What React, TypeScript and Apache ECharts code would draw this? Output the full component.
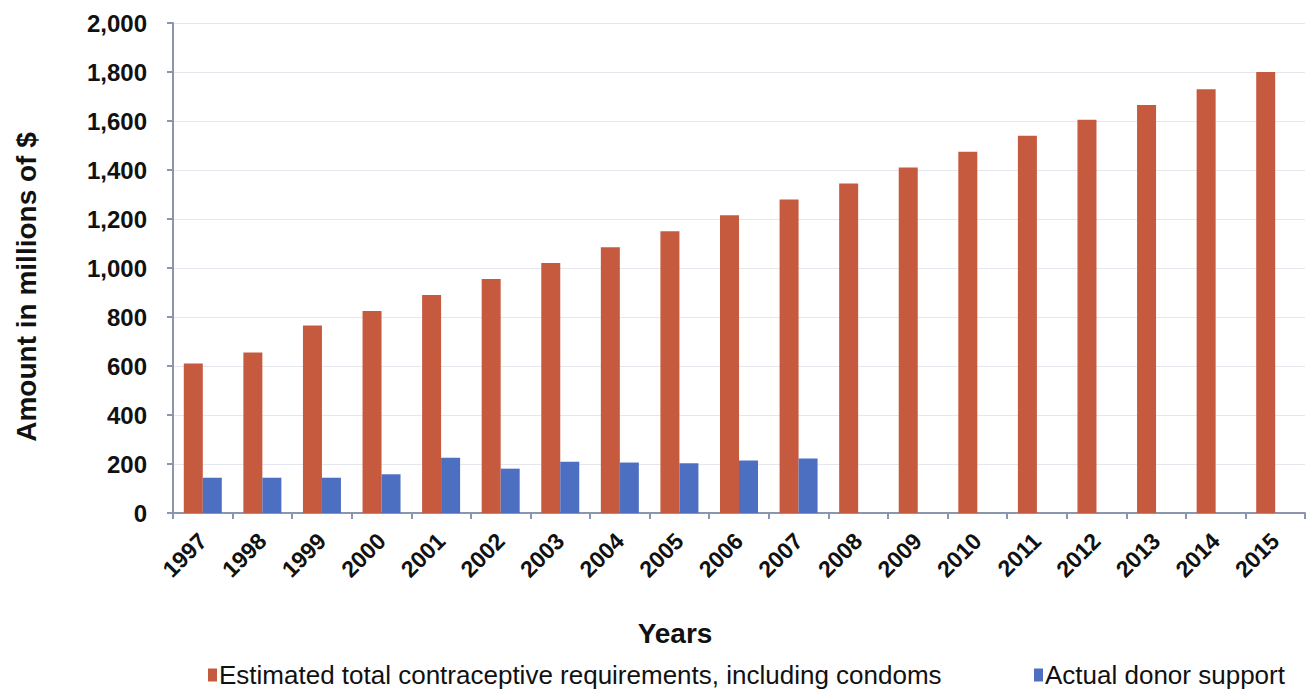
import React, { useEffect, useRef } from "react";
import * as echarts from "echarts";

const years = ["1997","1998","1999","2000","2001","2002","2003","2004","2005","2006","2007","2008","2009","2010","2011","2012","2013","2014","2015"];
const requirements = [610, 655, 765, 825, 890, 955, 1020, 1085, 1150, 1215, 1280, 1345, 1410, 1475, 1540, 1605, 1665, 1730, 1800];
const donorSupport: (number | null)[] = [144, 144, 144, 158, 226, 181, 209, 206, 203, 214, 222, null, null, null, null, null, null, null, null];
const yTicks = { min: 0, max: 2000, interval: 200 };
const seriesNames = ["Estimated total contraceptive requirements, including condoms", "Actual donor support"];

export default function App() {
  const ref = useRef<HTMLDivElement>(null);
  useEffect(() => {
    document.body.style.margin = "0";
    const chart = echarts.init(ref.current!, null, { renderer: "svg" });
    const font = "'Liberation Sans', Arial, sans-serif";
    const axisColor = "#8A95AE";
    const legendText = { fontSize: 26, color: "#111", fontFamily: font, padding: [0, 0, 0, -3] };
    chart.setOption({
      animation: false,
      textStyle: { fontFamily: font },
      grid: { left: 173, right: 2, top: 23, bottom: 178, containLabel: false },
      legend: [
        {
          data: [seriesNames[0]],
          left: 208,
          top: 662,
          padding: 0,
          itemWidth: 9,
          itemHeight: 13,
          icon: "rect",
          textStyle: legendText,
        },
        {
          data: [seriesNames[1]],
          left: 1034,
          top: 662,
          padding: 0,
          itemWidth: 9,
          itemHeight: 13,
          icon: "rect",
          textStyle: legendText,
        },
      ],
      xAxis: {
        type: "category",
        data: years,
        axisLine: { lineStyle: { color: axisColor, width: 2 } },
        axisTick: { show: true, length: 6, lineStyle: { color: axisColor, width: 2 } },
        axisLabel: {
          rotate: 45,
          fontSize: 23,
          fontWeight: "bold",
          color: "#111",
          margin: 24,
          fontFamily: font,
        },
      },
      yAxis: {
        type: "value",
        min: yTicks.min,
        max: yTicks.max,
        interval: yTicks.interval,
        axisLine: { show: true, lineStyle: { color: axisColor, width: 2 } },
        axisTick: { show: true, length: 6, lineStyle: { color: axisColor, width: 2 } },
        splitLine: { lineStyle: { color: "#E6E6EE", width: 1 } },
        axisLabel: {
          fontSize: 24,
          fontWeight: "bold",
          color: "#111",
          margin: 26,
          fontFamily: font,
          formatter: (v: number) => v.toLocaleString("en-US"),
        },
      },
      graphic: [
        {
          type: "text",
          x: 26,
          y: 287,
          rotation: Math.PI / 2,
          style: {
            text: "Amount in millions of $",
            fontSize: 28,
            fontWeight: "bold",
            fontFamily: font,
            fill: "#111",
            textAlign: "center",
            textVerticalAlign: "middle",
          },
        },
        {
          type: "text",
          x: 675,
          y: 633,
          style: {
            text: "Years",
            fontSize: 28,
            fontWeight: "bold",
            fontFamily: font,
            fill: "#111",
            textAlign: "center",
            textVerticalAlign: "middle",
          },
        },
      ],
      series: [
        {
          name: seriesNames[0],
          type: "bar",
          data: requirements,
          barWidth: 19,
          barGap: "0%",
          itemStyle: { color: "#C65A3F" },
        },
        {
          name: seriesNames[1],
          type: "bar",
          data: donorSupport,
          barWidth: 19,
          barGap: "0%",
          itemStyle: { color: "#4C6FC2" },
        },
      ],
    });
    return () => chart.dispose();
  }, []);
  return <div ref={ref} style={{ width: 1307, height: 691 }} />;
}
